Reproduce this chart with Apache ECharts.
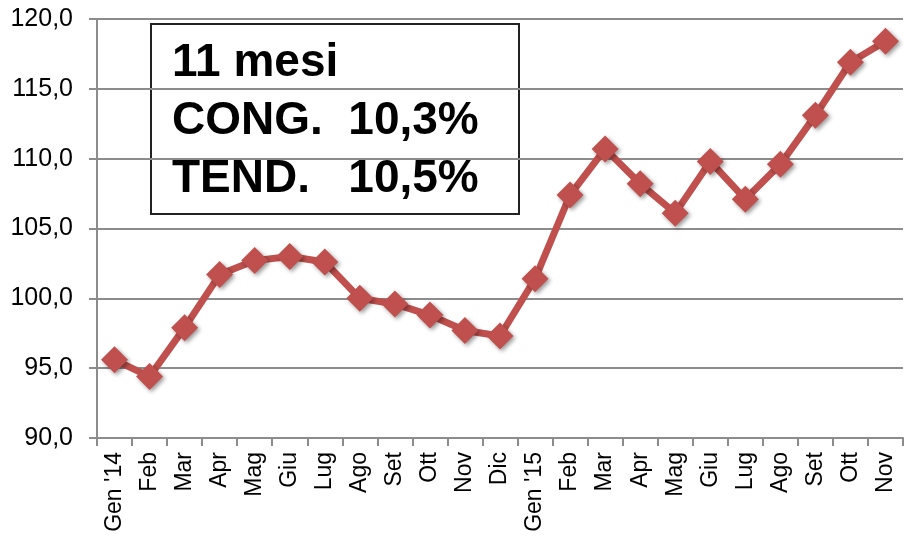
<!DOCTYPE html>
<html>
<head>
<meta charset="utf-8">
<script src="https://cdn.jsdelivr.net/npm/echarts@6/dist/echarts.min.js"></script>
<style>
  html, body { margin: 0; padding: 0; background: #fff; }
  #chart { width: 913px; height: 541px; }
</style>
</head>
<body>
<div id="chart"></div>
<script>
// mesi (Gen '14 .. Nov '15)
const categories = ['Gen \'14', 'Feb', 'Mar', 'Apr', 'Mag', 'Giu', 'Lug', 'Ago', 'Set', 'Ott', 'Nov', 'Dic',
  'Gen \'15', 'Feb', 'Mar', 'Apr', 'Mag', 'Giu', 'Lug', 'Ago', 'Set', 'Ott', 'Nov']
const values = [95.6, 94.4, 97.9, 101.7, 102.7, 103.0, 102.6, 100.0, 99.6, 98.8, 97.7, 97.3,
  101.4, 107.4, 110.7, 108.2, 106.1, 109.8, 107.1, 109.6, 113.1, 116.9, 118.4]
const boxLines = ['11 mesi', 'CONG.  10,3%', 'TEND.   10,5%']

const lineColor = '#c0504d'
const axisGray = '#8c8c8c'

let chart = echarts.init(document.getElementById('chart'))

let option = {
  animation: false,
  grid: { left: 97, right: 10, top: 19, bottom: 103 },
  xAxis: {
    type: 'category',
    data: categories,
    boundaryGap: true,
    axisLine: { lineStyle: { color: axisGray, width: 2 } },
    axisTick: { show: true, length: 8, alignWithLabel: false, lineStyle: { color: axisGray, width: 2 } },
    axisLabel: {
      rotate: 90,
      interval: 0,
      margin: 14,
      color: '#000',
      fontFamily: 'Liberation Sans, Arial, sans-serif',
      fontSize: 23
    }
  },
  yAxis: {
    type: 'value',
    min: 90,
    max: 120,
    interval: 5,
    axisLine: { show: true, lineStyle: { color: axisGray, width: 2 } },
    axisTick: { show: true, length: 8, lineStyle: { color: axisGray, width: 2 } },
    splitLine: { lineStyle: { color: axisGray, width: 2 } },
    axisLabel: {
      margin: 24,
      color: '#000',
      fontFamily: 'Liberation Sans, Arial, sans-serif',
      fontSize: 25,
      formatter: v => v.toFixed(1).replace('.', ',')
    }
  },
  series: [
    {
      type: 'line',
      data: values,
      symbol: 'diamond',
      symbolSize: 27,
      lineStyle: { color: lineColor, width: 7 },
      itemStyle: {
        color: lineColor,
        shadowBlur: 4,
        shadowOffsetX: 2,
        shadowOffsetY: 2,
        shadowColor: 'rgba(0,0,0,0.4)'
      }
    }
  ],
  graphic: [
    {
      type: 'group',
      left: 150,
      top: 23,
      z: 100,
      children: [
        {
          type: 'rect',
          shape: { x: 0, y: 0, width: 368, height: 190 },
          style: { fill: '#fff', stroke: '#222', lineWidth: 2 }
        }
      ].concat(boxLines.map((t, i) => ({
        type: 'text',
        x: 21,
        y: 39 + i * 58,
        style: {
          text: t,
          fill: '#000',
          font: 'bold 46px "Liberation Sans", Arial, sans-serif',
          textVerticalAlign: 'middle'
        }
      })))
    }
  ]
}

chart.setOption(option)
</script>
</body>
</html>
